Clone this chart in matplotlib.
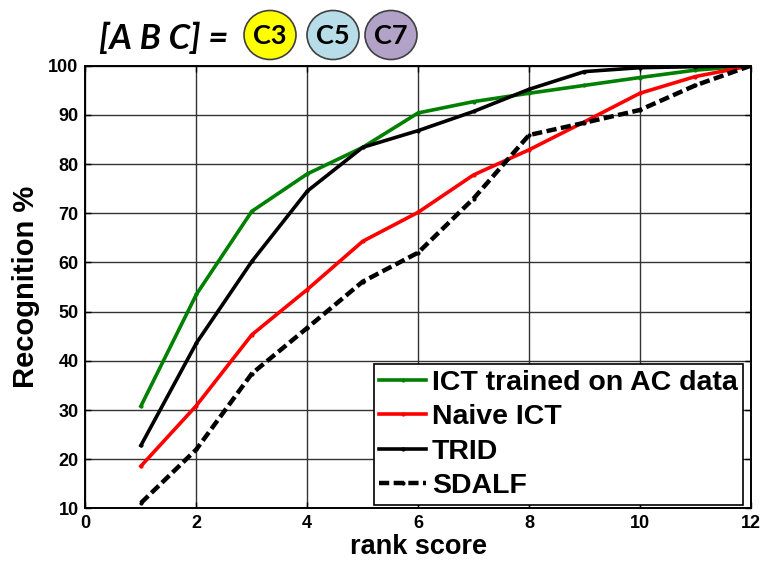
import matplotlib
matplotlib.use("Agg")
import matplotlib.pyplot as plt
from matplotlib.patches import Ellipse

rank = [1, 2, 3, 4, 5, 6, 7, 8, 9, 10, 11, 12]
ict_ac = [30.8, 53.5, 70.4, 78.0, 83.4, 90.4, 92.7, 94.4, 96.0, 97.6, 99.1, 100]
naive_ict = [18.6, 30.9, 45.3, 54.5, 64.3, 70.2, 77.8, 82.9, 88.6, 94.4, 97.8, 100]
trid = [22.8, 43.6, 60.2, 74.5, 83.4, 86.8, 90.7, 95.2, 98.8, 99.6, 99.8, 100]
sdalf = [11.1, 22.0, 37.4, 46.7, 56.1, 62.0, 73.0, 85.9, 88.4, 91.0, 96.0, 100]

series_labels = ["ICT trained on AC data", "Naive ICT", "TRID", "SDALF"]
x_ticks = [0, 2, 4, 6, 8, 10, 12]
y_ticks = [10, 20, 30, 40, 50, 60, 70, 80, 90, 100]
badges = ["C3", "C5", "C7"]
badge_colors = ["#ffff00", "#b7dde8", "#b3a2c7"]

plt.rcParams["font.family"] = ["Liberation Sans", "DejaVu Sans"]

fig = plt.figure(figsize=(7.63, 5.64), dpi=100)
ax = fig.add_axes([0.112, 0.0985, 0.872, 0.785])

ax.plot(rank, ict_ac, color="#008000", lw=2.6, marker=".", ms=4, label=series_labels[0])
ax.plot(rank, naive_ict, color="#ff0000", lw=2.6, marker=".", ms=4, label=series_labels[1])
ax.plot(rank, trid, color="black", lw=2.6, marker=".", ms=4, label=series_labels[2])
ax.plot(rank, sdalf, color="black", lw=3.2, ls=(0, (2.3, 1.0)), marker=".", ms=4,
        label=series_labels[3])

ax.set_xlim(0, 12)
ax.set_ylim(10, 100)
ax.set_xticks(x_ticks)
ax.set_yticks(y_ticks)
ax.grid(True, color="#333333", lw=1.0)
ax.set_axisbelow(True)
for s in ax.spines.values():
    s.set_linewidth(1.4)
ax.tick_params(direction="in", top=True, right=True, length=4, width=1, labelsize=13,
               pad=5)
for lbl in ax.get_xticklabels() + ax.get_yticklabels():
    lbl.set_fontweight("bold")

ax.set_xlabel("rank score", fontsize=19.5, fontweight="bold", labelpad=1)
ax.set_ylabel("Recognition %", fontsize=21, fontweight="bold", labelpad=6)

leg = ax.legend(loc="lower right", bbox_to_anchor=(0.994, 0.0),
                prop={"weight": "bold", "size": 20.5}, handlelength=1.65,
                handletextpad=0.2, borderpad=0.2, labelspacing=0.3, borderaxespad=0.12,
                fancybox=False, framealpha=1, edgecolor="black")
leg.get_frame().set_linewidth(1.2)

fig.text(0.13, 0.931, "[A B C] =", fontsize=25, fontweight="bold", style="italic",
         ha="left", va="center", family=["Lato", "DejaVu Sans"])
centers = [270, 333, 391]
for cx, name, col in zip(centers, badges, badge_colors):
    e = Ellipse((cx / 763, 1 - 35 / 564), 52 / 763, 49 / 564, transform=fig.transFigure,
                facecolor=col, edgecolor="#404040", lw=1.2)
    fig.add_artist(e)
    fig.text(cx / 763, 1 - 36 / 564, name, fontsize=19.5, fontweight="bold",
             ha="center", va="center", family=["Lato", "DejaVu Sans"])

fig.savefig("out.png", dpi=100)
